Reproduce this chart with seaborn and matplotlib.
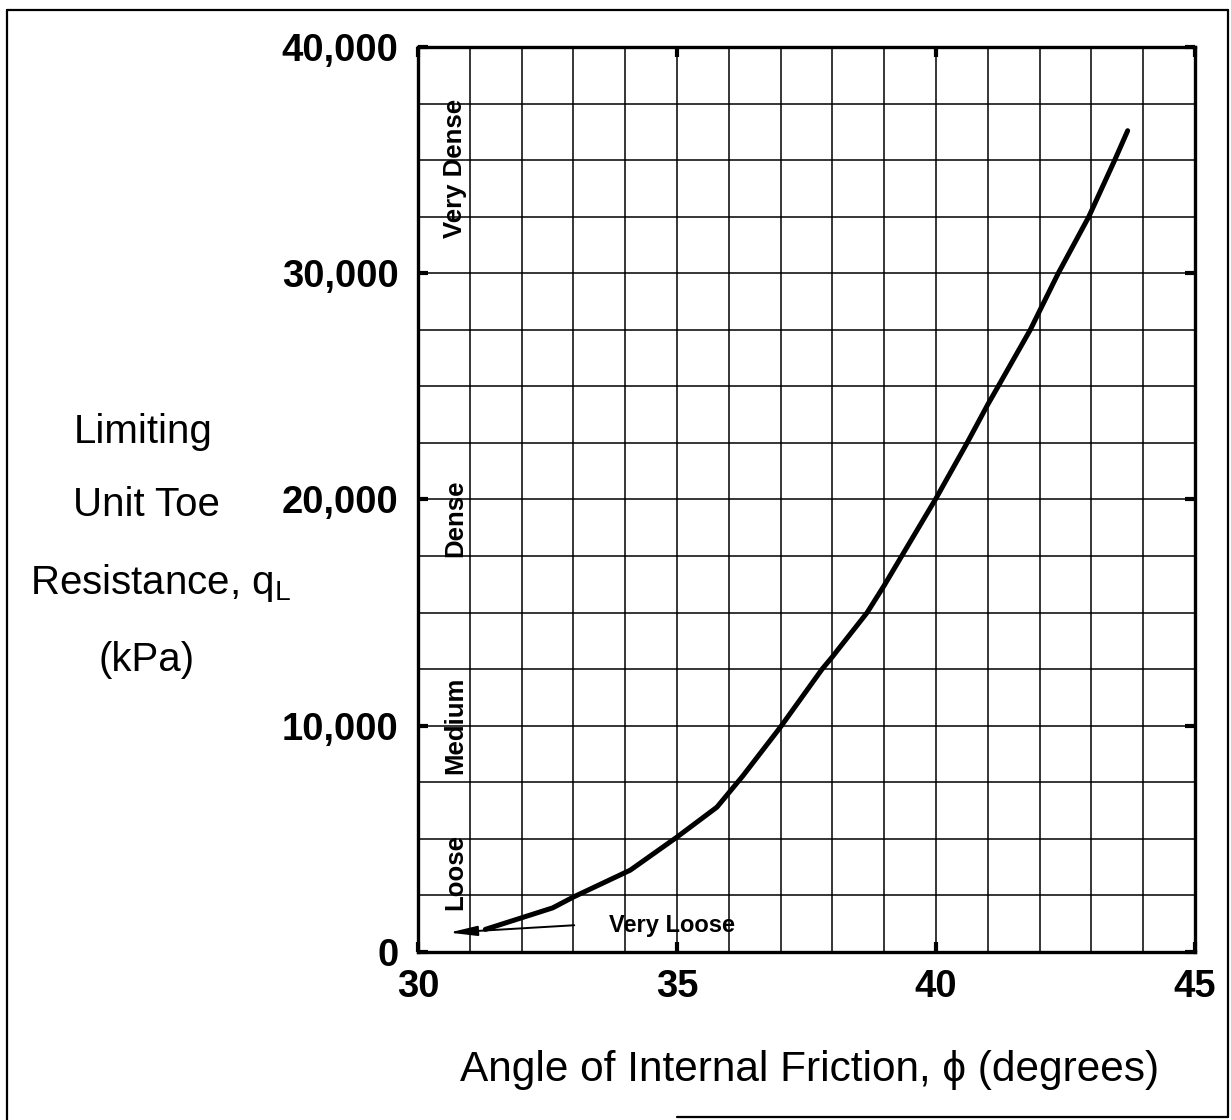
import matplotlib
matplotlib.use("Agg")
import matplotlib.pyplot as plt
import seaborn as sns
import pandas as pd
from matplotlib.ticker import MultipleLocator, FuncFormatter
from matplotlib.lines import Line2D

# Data
friction_angle = [31.3, 32.6, 33.0, 34.1, 35.0, 35.77, 36.27, 37.0, 37.8, 38.0, 38.67, 39.0, 40.0, 40.6, 41.0, 41.2, 41.82, 42.36, 42.95, 43.45, 43.7]
toe_resistance = [1000, 1950, 2430, 3620, 5080, 6400, 7780, 9950, 12500, 13050, 15000, 16200, 20050, 22500, 24200, 25000, 27500, 30000, 32500, 35000, 36300]

density_labels = ["Very Dense", "Dense", "Medium", "Loose"]
density_y = [34650, 19150, 10000, 3550]
density_x = 30.72

sns.set_theme(style="white")
plt.rcParams['font.family'] = ['Liberation Sans', 'DejaVu Sans']
plt.rcParams['text.color'] = 'black'

fig = plt.figure(figsize=(12.31, 11.2), dpi=100)
ax = fig.add_axes([418/1231, 1 - 952/1120, (1195-418)/1231, (952-47)/1120])

df = pd.DataFrame({"phi": friction_angle, "q": toe_resistance})
sns.lineplot(data=df, x="phi", y="q", ax=ax, color="black", linewidth=3.6, sort=False)

ax.set_xlim(30, 45)
ax.set_ylim(0, 40000)
ax.xaxis.set_major_locator(MultipleLocator(5))
ax.xaxis.set_minor_locator(MultipleLocator(1))
ax.yaxis.set_major_locator(MultipleLocator(10000))
ax.yaxis.set_minor_locator(MultipleLocator(2500))
ax.yaxis.set_major_formatter(FuncFormatter(lambda v, p: f"{int(v):,}"))
ax.grid(True, which="both", color="black", linewidth=1.1)
ax.set_axisbelow(True)
for s in ax.spines.values():
    s.set_visible(True)
    s.set_color("black")
    s.set_linewidth(2.4)
ax.tick_params(which="major", direction="in", length=7, width=3, colors="black",
               labelcolor="black", top=True, right=True, bottom=True, left=True)
ax.tick_params(which="minor", length=0)
ax.tick_params(axis="x", which="major", pad=12)
ax.tick_params(axis="y", which="major", pad=14)
for lab in ax.get_xticklabels() + ax.get_yticklabels():
    lab.set_fontweight("bold")
    lab.set_fontsize(27.5)
    lab.set_color("black")

ax.set_xlabel("")
ax.set_ylabel("")

for lab, yv in zip(density_labels, density_y):
    ax.text(density_x, yv, lab, rotation=90, ha="center", va="center",
            fontsize=18.5, fontweight="bold", color="black")

ax.text(34.9, 1150, "Very Loose", ha="center", va="center", fontsize=17, fontweight="bold", color="black")
ax.annotate("", xy=(30.55, 850), xytext=(33.07, 1190),
            arrowprops=dict(arrowstyle="-|>,head_length=1.4,head_width=0.25", color="black", lw=1.4))

lab_kw = dict(ha="center", va="center", fontsize=29, color="black")
fig.text(143/1231, 1 - 432/1120, "Limiting", **lab_kw)
fig.text(146/1231, 1 - 505/1120, "Unit Toe", **lab_kw)
fig.text(161/1231, 1 - 583/1120, r"Resistance, q$_{\mathregular{L}}$", **lab_kw)
fig.text(147/1231, 1 - 660/1120, "(kPa)", **lab_kw)
fig.text(810/1231, 1 - 1070/1120, "Angle of Internal Friction, ϕ (degrees)",
         ha="center", va="center", fontsize=30.5, color="black")

# outer frame (partially open at the bottom-left, as in the reference)
W, H = 1231, 1120
frame = [((7, 7), (10, 1120)), ((7, 1228), (10, 10)), ((1228, 1228), (10, 1117)), ((677, 1228), (1117, 1117))]
for xs, ys in frame:
    fig.add_artist(Line2D([x / W for x in xs], [1 - y / H for y in ys], transform=fig.transFigure,
                          color="black", linewidth=1.6))

fig.savefig("out.png", dpi=100, facecolor="white")
